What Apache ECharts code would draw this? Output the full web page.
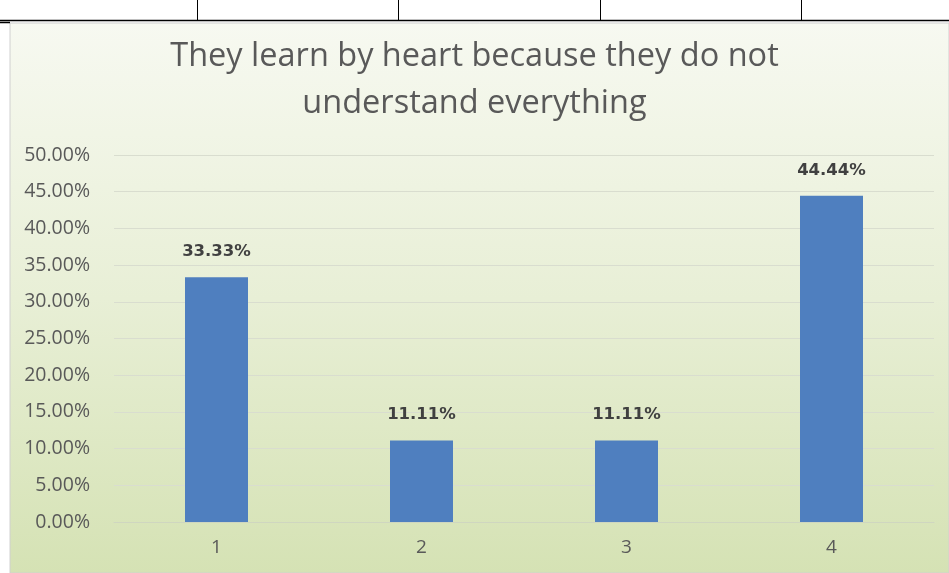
<!DOCTYPE html>
<html>
<head>
<meta charset="utf-8">
<script src="https://cdn.jsdelivr.net/npm/echarts@6/dist/echarts.min.js"></script>
<style>
  html, body { margin: 0; padding: 0; background: #ffffff; }
  #chart { width: 949px; height: 573px; }
</style>
</head>
<body>
<div id="chart"></div>
<script>
// Survey answers: share of respondents per rating
const categories = ['1', '2', '3', '4'];
const shares = [0.3333, 0.1111, 0.1111, 0.4444];
const chartTitle = 'They learn by heart because they do not\nunderstand everything';

const chart = echarts.init(document.getElementById('chart'));

const option = {
  animation: false,
  backgroundColor: '#ffffff',
  graphic: [
    // chart panel with soft green vertical gradient
    {
      type: 'rect', z: -10, silent: true,
      shape: { x: 10, y: 23, width: 939, height: 550 },
      style: {
        fill: new echarts.graphic.LinearGradient(0, 0, 0, 1, [
          { offset: 0, color: '#f7f9f1' },
          { offset: 0.5, color: '#e8efd6' },
          { offset: 1, color: '#d5e2b4' }
        ]),
        stroke: '#d0d0d0', lineWidth: 1
      }
    },
    // surrounding table rules
    { type: 'line', silent: true, shape: { x1: 0, y1: 20.5, x2: 949, y2: 20.5 }, style: { stroke: '#000', lineWidth: 1.5 } },
    { type: 'line', silent: true, shape: { x1: 197.5, y1: 0, x2: 197.5, y2: 20 }, style: { stroke: '#000', lineWidth: 1 } },
    { type: 'line', silent: true, shape: { x1: 398.5, y1: 0, x2: 398.5, y2: 20 }, style: { stroke: '#000', lineWidth: 1 } },
    { type: 'line', silent: true, shape: { x1: 600.5, y1: 0, x2: 600.5, y2: 20 }, style: { stroke: '#000', lineWidth: 1 } },
    { type: 'line', silent: true, shape: { x1: 801.5, y1: 0, x2: 801.5, y2: 20 }, style: { stroke: '#000', lineWidth: 1 } },
    { type: 'line', silent: true, shape: { x1: 0, y1: 22.5, x2: 10, y2: 22.5 }, style: { stroke: '#000', lineWidth: 1.5 } }
  ],
  title: {
    text: chartTitle,
    left: 'center',
    top: 28,
    textStyle: {
      fontFamily: 'Open Sans',
      fontSize: 32.5,
      fontWeight: 'normal',
      color: '#595959',
      lineHeight: 47
    }
  },
  grid: { left: 114, right: 15, top: 155, bottom: 51 },
  xAxis: {
    type: 'category',
    data: categories,
    axisTick: { show: false },
    axisLine: { lineStyle: { color: '#cfd6c0' } },
    axisLabel: { color: '#595959', fontFamily: 'Open Sans', fontSize: 19, margin: 16 }
  },
  yAxis: {
    type: 'value',
    min: 0, max: 0.5, interval: 0.05,
    axisLabel: {
      color: '#595959', fontFamily: 'Open Sans', fontSize: 19.5, margin: 24,
      formatter: v => (v * 100).toFixed(2) + '%'
    },
    splitLine: { lineStyle: { color: '#d9ddcf' } },
    axisLine: { show: false },
    axisTick: { show: false }
  },
  series: [{
    type: 'bar',
    data: shares,
    barWidth: 63,
    itemStyle: { color: '#4f7fbf' },
    label: {
      show: true,
      position: 'top',
      distance: 17,
      fontFamily: 'DejaVu Sans',
      fontSize: 16.5,
      fontWeight: 'bold',
      color: '#404040',
      formatter: p => (p.value * 100).toFixed(2) + '%'
    }
  }]
};

chart.setOption(option);
</script>
</body>
</html>
